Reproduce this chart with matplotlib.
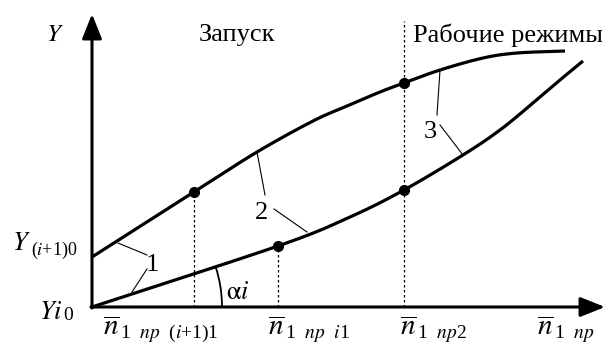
import matplotlib
matplotlib.use("Agg")
import matplotlib.pyplot as plt
import numpy as np
from matplotlib.patches import Arc

plt.rcParams['font.family'] = ['Liberation Serif', 'DejaVu Serif']
plt.rcParams['mathtext.fontset'] = 'stix'

# curve 1 (upper) and curve 2/3 (lower), origin at axis crossing
upper_x = [0, 102, 165, 221, 255, 288, 312, 348, 391, 425, 473]
upper_y = [50, 115, 155, 186, 201, 215, 224, 237, 249, 254, 256]
lower_x = [0, 186, 258, 312, 371, 408, 441, 468, 491]
lower_y = [0, 61, 90, 117, 152, 177, 204, 227, 246]

# marked points
dots_x = [102, 312, 186, 312]
dots_y = [115, 224, 61, 117]

# dotted verticals: x, top
vlines_x = [102, 186, 312]
vlines_top = [115, 61, 286]

# leader lines for curve numbers
leaders = [((26, 64), (55, 52)), ((40, 15), (55, 38)),
           ((165, 155), (173, 112)), ((182, 98), (215, 75)),
           ((348, 237), (345, 192)), ((348, 182), (371, 152))]
curve_nums = ['1', '2', '3']
num_pos = [(60, 42), (170, 94), (338, 175)]

xtick_x = [11, 176, 308, 445]
xtick_subs = [r'1  $np$  ($i$+1)1', r'1  $np$  $i$1', r'1  $np$2', r'1  $np$']


def smooth(xs, ys, n=20):
    # catmull-rom through the read points, just for drawing
    p = np.column_stack([xs, ys]).astype(float)
    p = np.vstack([2 * p[0] - p[1], p, 2 * p[-1] - p[-2]])
    out = []
    t = np.linspace(0, 1, n, endpoint=False)[:, None]
    for i in range(1, len(p) - 2):
        p0, p1, p2, p3 = p[i - 1], p[i], p[i + 1], p[i + 2]
        out.append(0.5 * ((2 * p1) + (-p0 + p2) * t + (2 * p0 - 5 * p1 + 4 * p2 - p3) * t ** 2
                          + (-p0 + 3 * p1 - 3 * p2 + p3) * t ** 3))
    out.append(p[-2][None, :])
    out = np.vstack(out)
    return out[:, 0], out[:, 1]


fig = plt.figure(figsize=(6.05, 3.43), dpi=100)
ax = fig.add_axes([0, 0, 1, 1])
ax.set_xlim(-92, 513)
ax.set_ylim(-36, 307)
ax.axis('off')

# axes with arrows
arr = dict(arrowstyle='-|>,head_length=0.75,head_width=0.3', lw=2.2, color='k',
           shrinkA=0, shrinkB=0, mutation_scale=20)
ax.annotate('', xy=(0, 293), xytext=(0, -1), arrowprops=arr)
ax.annotate('', xy=(513, 0), xytext=(-1, 0), arrowprops=arr)

for x, top in zip(vlines_x, vlines_top):
    ax.plot([x, x], [0, top], color='k', lw=0.9, ls=(0, (2, 2)))

ax.plot(*smooth(upper_x, upper_y), color='k', lw=2.3, solid_capstyle='butt')
ax.plot(*smooth(lower_x, lower_y), color='k', lw=2.3, solid_capstyle='butt')
ax.plot(dots_x, dots_y, 'o', color='k', ms=7)

for (p0, p1) in leaders:
    ax.plot([p0[0], p1[0]], [p0[1], p1[1]], color='k', lw=0.8)
for t, (x, y) in zip(curve_nums, num_pos):
    ax.text(x, y, t, fontsize=19, ha='center', va='center')

ax.add_patch(Arc((0, 0), 260, 260, theta1=0, theta2=18, lw=1.3, color='k'))
ax.text(134, 14, r'$\mathrm{\alpha}i$', fontsize=19, ha='left', va='center')

ax.text(-37, 272, r'$Y$', fontsize=18, ha='center', va='center')
ax.text(145, 272, 'Запуск', fontsize=19, ha='center', va='center')
ax.text(321, 272, 'Рабочие режимы', fontsize=19, ha='left', va='center')
ax.text(-80, 63, r'$Y$', fontsize=19, ha='left', va='center')
ax.text(-61, 57, r'($i$+1)0', fontsize=13, ha='left', va='center')
ax.text(-53, -6, r'$Yi$', fontsize=19, ha='left', va='center')
ax.text(-29, -9, '0', fontsize=14, ha='left', va='center')

for x, sub in zip(xtick_x, xtick_subs):
    ax.text(x, -21, r'$\overline{n}$', fontsize=21, ha='left', va='center')
    ax.text(x + 17, -26, sub, fontsize=14, ha='left', va='center')

fig.savefig('out.png', dpi=100)
